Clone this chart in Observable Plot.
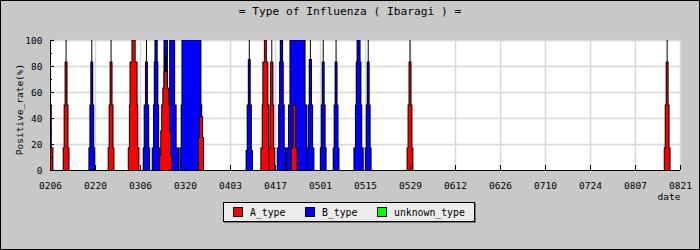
<!DOCTYPE html>
<html>
<head>
<meta charset="utf-8">
<script src="https://cdn.jsdelivr.net/npm/d3@7"></script>
<script src="https://cdn.jsdelivr.net/npm/@observablehq/plot@0.6"></script>
<style>
  html, body { margin: 0; padding: 0; background: #c8c8c8; }
  #wrap { position: relative; width: 700px; height: 250px; background: #c8c8c8; overflow: hidden;
          font-family: "DejaVu Sans Mono", monospace; color: #000; }
  #border { position: absolute; left: 0; top: 0; width: 700px; height: 250px; box-sizing: border-box;
            border: 1px solid #000; pointer-events: none; z-index: 10; }
  #title { position: absolute; left: 0; top: 4px; width: 700px; text-align: center; font-size: 11.2px; line-height: 16px; }
  #chart { position: absolute; left: 0; top: 0; }
  #legend { position: absolute; left: 223px; top: 202px; width: 252px; height: 20px; box-sizing: border-box;
            background: #ececec; border: 1px solid #000; box-shadow: 1px 1px 0 #777;
            font-size: 9.8px; }
  .item { position: absolute; top: 4px; height: 11px; line-height: 11px; white-space: nowrap; }
  .sw { display: inline-block; width: 8px; height: 8px; border: 1px solid #000; vertical-align: top; margin-right: 7px; }
</style>
</head>
<body>
<div id="wrap">
  <div id="title"></div>
  <div id="chart"></div>
  <div id="legend"></div>
  <div id="border"></div>
</div>
<script>
const titleText = "= Type of Influenza ( Ibaragi ) =";
const yLabel = "Positive_rate(%)";
const xLabel = "date";
const year = "2019";

const xTickLabels = ["0206","0220","0306","0320","0403","0417","0501","0515","0529","0612","0626","0710","0724","0807","0821"];
const yTicks = [0, 20, 40, 60, 80, 100];
const yMinorTicks = [10, 30, 50, 70, 90];

const typeNames = ["A_type", "B_type", "unknown_type"];
const typeColors = ["#ff0000", "#0000ff", "#00ff00"];

// Each spike: date, type index, and stacked levels [top %, half-width in days]
const std = [[100, 0], [83, 0.3], [50, 0.6], [17, 0.9]];
const spikeDates = ["0206","0211","0219","0225","0304","0308","0311","0314","0316","0314","0322","0325",
                    "0409","0414","0416","0419","0424","0423","0428","0502","0506","0513","0516","0529","0817"];
const spikeTypes = [0,0,1,0,0,1,1,1,1,0,1,0,
                    1,0,0,1,1,0,1,1,1,1,1,0,0];
const spikeLevels = [
  [[50, 0.4], [17, 0.9]],
  std,
  std,
  std,
  [[100, 0.5], [83, 1.1], [50, 1.3], [17, 1.65]],
  [[100, 0], [83, 0.3], [50, 0.7], [17, 1.0]],
  [[100, 0.35], [83, 0.55], [50, 0.8], [17, 1.2]],
  [[100, 0.53], [50, 0.9]],
  [[100, 0.78], [50, 1.25], [17, 2.0]],
  [[88, 0.15], [76, 0.5], [63, 0.9], [50, 1.25], [30, 1.55], [11, 1.9]],
  [[100, 2.95], [50, 3.2], [17, 3.6]],
  [[50, 0], [41, 0.47], [25, 0.78]],
  [[100, 0], [85, 0.3], [50, 0.65], [15, 1.0]],
  [[100, 0.31], [83, 0.78], [50, 0.98], [17, 1.4]],
  [[100, 0], [83, 0.35], [50, 0.6], [17, 0.9]],
  [[100, 0.36], [83, 0.57], [50, 0.88], [17, 1.3]],
  [[100, 2.35], [50, 2.8], [17, 3.4]],
  [[50, 0.4], [17, 0.9]],
  [[100, 0], [85, 0.35], [50, 0.7], [17, 1.1]],
  std,
  std,
  [[100, 0.47], [83, 0.73], [50, 0.98], [17, 1.45]],
  std,
  std,
  std
];

const parse = s => d3.utcParse("%Y%m%d")(year + s);
const fmt = d3.utcFormat("%m%d");
const DAY = 864e5;
const xTicks = xTickLabels.map(parse);

const marks = [
  Plot.frame({fill: "white", stroke: null}),
  Plot.gridX(xTicks, {stroke: "#d8d8d8", strokeOpacity: 1, strokeWidth: 1.5}),
  Plot.gridY(yTicks.slice(1), {stroke: "#d8d8d8", strokeOpacity: 1, strokeWidth: 1.5})
];

spikeDates.forEach((ds, i) => {
  const c = +parse(ds);
  const rows = spikeLevels[i].map(([top, hw]) => ({x1: new Date(c - hw * DAY), x2: new Date(c + hw * DAY), top}));
  marks.push(Plot.rect(rows, {x1: "x1", x2: "x2", y1: 0, y2: "top", fill: "black",
    insetLeft: -0.5, insetRight: -0.5, insetTop: -0.5, clip: true}));
  marks.push(Plot.rect(rows, {x1: "x1", x2: "x2", y1: 0, y2: "top", fill: typeColors[spikeTypes[i]],
    insetLeft: 0.5, insetRight: 0.5, insetTop: 0.5, clip: true}));
});

marks.push(
  Plot.tickX(xTicks, {x: d => d, stroke: "black", insetTop: 125}),
  Plot.tickY(yTicks, {y: d => d, stroke: "black", insetRight: 626}),
  Plot.tickY(yMinorTicks, {y: d => d, stroke: "black", insetRight: 628}),
  Plot.ruleX([xTicks[0]], {stroke: "black"}),
  Plot.ruleY([0], {stroke: "black"}),
  Plot.axisX({ticks: xTicks, tickFormat: fmt, tickSize: 0, tickPadding: 12, label: null}),
  Plot.axisY({ticks: yTicks, tickSize: 0, tickPadding: 8, label: null}),
  Plot.text([yLabel], {frameAnchor: "left", textAnchor: "middle", lineAnchor: "middle", rotate: -90, dx: -31, dy: 4, text: d => d}),
  Plot.text([xLabel], {frameAnchor: "bottom-right", dy: 26, textAnchor: "end", lineAnchor: "middle", text: d => d})
);

const chart = Plot.plot({
  width: 700,
  height: 210,
  marginLeft: 50,
  marginRight: 20,
  marginTop: 40,
  marginBottom: 40,
  x: {type: "utc", domain: [xTicks[0], xTicks[xTicks.length - 1]]},
  y: {domain: [0, 100]},
  style: {background: "transparent", fontFamily: "DejaVu Sans Mono", fontSize: "9.5px", color: "black"},
  marks
});
document.getElementById("chart").appendChild(chart);
document.getElementById("title").textContent = titleText;

const legend = document.getElementById("legend");
const lefts = [9, 81, 153];
typeNames.forEach((n, i) => {
  const it = document.createElement("div");
  it.className = "item";
  it.style.left = lefts[i] + "px";
  it.innerHTML = `<span class="sw" style="background:${typeColors[i]}"></span>${n}`;
  legend.appendChild(it);
});
</script>
</body>
</html>
